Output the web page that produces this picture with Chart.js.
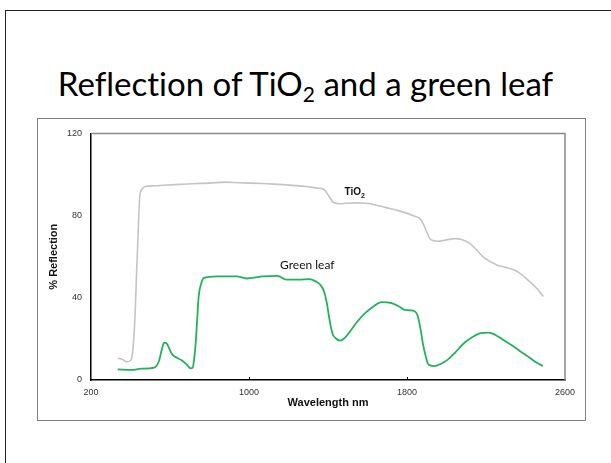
<!DOCTYPE html>
<html>
<head>
<meta charset="utf-8">
<script src="https://cdn.jsdelivr.net/npm/chart.js@4.4.1/dist/chart.umd.min.js"></script>
<style>
  html, body { margin: 0; padding: 0; background: #fff; }
  body { width: 611px; height: 463px; position: relative; overflow: hidden; }
  #slide {
    position: absolute; left: 5px; top: 10px; width: 620px; height: 470px;
    border-left: 1px solid #222; border-top: 1px solid #222;
  }
  #titulo {
    position: absolute; left: 0; top: 63px; width: 611px; text-align: center;
    font-family: Lato, sans-serif; font-size: 33px; color: #000; line-height: 40px;
    font-variant-ligatures: none;
  }
  #titulo sub { font-size: 21px; vertical-align: -6px; line-height: 0; }
  #caja {
    position: absolute; left: 37px; top: 118px; width: 547px; height: 301px;
    border: 1px solid #808080;
  }
</style>
</head>
<body>
<div id="slide"></div>
<div id="titulo">Reflection of TiO<sub>2</sub> and a green leaf</div>
<div id="caja"><canvas id="graficoReflexion" width="547" height="301"></canvas></div>
<script>
// longitudes de onda (nm) y % de reflexion
const longitudTiO2 = [335, 360, 380, 400, 410, 422, 430, 438, 447, 458, 470, 520, 570, 650, 738, 800, 880, 950, 1070, 1150, 1238, 1300, 1338, 1380, 1405, 1430, 1460, 1490, 1540, 1590, 1640, 1690, 1760, 1840, 1865, 1880, 1900, 1920, 1955, 2000, 2040, 2080, 2115, 2150, 2190, 2255, 2300, 2340, 2380, 2420, 2460, 2490];
const reflexionTiO2 = [10.6, 10.0, 8.9, 9.5, 13, 29, 50, 70, 89.4, 92.8, 94.0, 94.5, 94.8, 95.2, 95.6, 95.8, 96.3, 96.0, 95.6, 95.2, 94.6, 94.0, 93.5, 92.7, 89.4, 86.2, 85.8, 86.0, 86.2, 86.0, 85.2, 84.0, 82.3, 79.7, 78.5, 76.4, 72, 68.3, 67.5, 68.2, 68.8, 68.3, 66.7, 63.5, 59.5, 56.0, 54.8, 53.6, 51.3, 48.0, 44.3, 40.6];

const longitudHoja = [335, 405, 455, 520, 545, 560, 570, 580, 588, 600, 613, 635, 655, 680, 705, 715, 722, 730, 738, 745, 758, 770, 838, 938, 988, 1070, 1145, 1188, 1250, 1305, 1338, 1360, 1380, 1395, 1405, 1422, 1440, 1463, 1485, 1505, 1545, 1588, 1630, 1672, 1722, 1760, 1788, 1830, 1845, 1855, 1870, 1880, 1895, 1905, 1920, 1938, 1970, 2005, 2045, 2088, 2130, 2172, 2213, 2250, 2288, 2340, 2388, 2420, 2455, 2488];
const reflexionHoja = [5.2, 4.9, 5.5, 6.0, 9.5, 15.5, 18.2, 18.0, 17.0, 14.5, 12.2, 10.8, 9.8, 8.0, 5.7, 6.0, 10, 18, 30, 40.6, 47, 49.6, 50.4, 50.4, 49.4, 50.4, 50.7, 48.8, 48.8, 49.1, 48.0, 46.5, 43.1, 37, 30.9, 22.8, 20.2, 19.2, 20.5, 22.8, 28, 32.5, 35.8, 37.9, 37.4, 35.8, 34.1, 33.8, 33.0, 30.9, 24, 17.9, 11.5, 8.1, 7.0, 6.8, 7.8, 9.8, 13.5, 17.9, 20.8, 22.8, 23.1, 21.8, 19.5, 16.3, 13.0, 11.0, 8.5, 6.8];

const marcasX = [200, 1000, 1800, 2600];
const marcasY = [0, 40, 80, 120];

// etiquetas dentro del grafico: [texto, longitud, reflexion]
const etiquetaTiO2 = ['TiO', 1535, 91.2];
const etiquetaHoja = ['Green leaf', 1295, 56];

const puntos = (xs, ys) => xs.map((x, i) => ({ x: x, y: ys[i] }));

const marcoYTextos = {
    id: 'marcoYTextos',
    afterDatasetsDraw(chart) {
        const { ctx, chartArea: a, scales: { x, y } } = chart;
        ctx.save();
        // bordes superior y derecho del area de trazado
        ctx.strokeStyle = '#8a8a8a';
        ctx.lineWidth = 1.5;
        ctx.beginPath();
        ctx.moveTo(a.left, a.top);
        ctx.lineTo(a.right, a.top);
        ctx.lineTo(a.right, a.bottom);
        ctx.stroke();
        // marcas pequenas hacia dentro en el eje x
        ctx.strokeStyle = '#000';
        ctx.lineWidth = 1;
        marcasX.slice(1, -1).forEach(v => {
            const px = Math.round(x.getPixelForValue(v)) + 0.5;
            ctx.beginPath();
            ctx.moveTo(px, a.bottom);
            ctx.lineTo(px, a.bottom - 3);
            ctx.stroke();
        });
        // etiqueta TiO2 con subindice
        ctx.fillStyle = '#111';
        ctx.textBaseline = 'middle';
        ctx.font = 'bold 10px "Liberation Sans", Arial, sans-serif';
        const w1 = ctx.measureText(etiquetaTiO2[0]).width;
        ctx.font = 'bold 7px "Liberation Sans", Arial, sans-serif';
        const w2 = ctx.measureText('2').width;
        const cx = x.getPixelForValue(etiquetaTiO2[1]);
        const cy = y.getPixelForValue(etiquetaTiO2[2]);
        const x0 = cx - (w1 + w2) / 2;
        ctx.font = 'bold 10px "Liberation Sans", Arial, sans-serif';
        ctx.textAlign = 'left';
        ctx.fillText(etiquetaTiO2[0], x0, cy);
        ctx.font = 'bold 7px "Liberation Sans", Arial, sans-serif';
        ctx.fillText('2', x0 + w1, cy + 3);
        // etiqueta Green leaf
        ctx.font = '12px Lato, sans-serif';
        ctx.textAlign = 'center';
        ctx.fillText(etiquetaHoja[0], x.getPixelForValue(etiquetaHoja[1]), y.getPixelForValue(etiquetaHoja[2]));
        ctx.restore();
    }
};

const fuenteEjes = { family: '"Liberation Sans", Arial, sans-serif', size: 9 };
const fuenteTitulos = { family: '"Liberation Sans", Arial, sans-serif', size: 11, weight: 'bold' };

new Chart(document.getElementById('graficoReflexion').getContext('2d'), {
    type: 'line',
    data: {
        datasets: [{
            label: 'TiO2',
            data: puntos(longitudTiO2, reflexionTiO2),
            borderColor: '#c4c4c4',
            borderWidth: 1.6,
            pointRadius: 0,
            cubicInterpolationMode: 'monotone',
            fill: false
        }, {
            label: 'Green leaf',
            data: puntos(longitudHoja, reflexionHoja),
            borderColor: '#22b35a',
            borderWidth: 1.8,
            pointRadius: 0,
            cubicInterpolationMode: 'monotone',
            fill: false
        }]
    },
    options: {
        responsive: false,
        devicePixelRatio: 1,
        animation: false,
        layout: { padding: { left: 0, right: 20, top: 14, bottom: 0 } },
        plugins: {
            legend: { display: false },
            tooltip: { enabled: false }
        },
        scales: {
            x: {
                type: 'linear',
                min: 200,
                max: 2600,
                afterBuildTicks: s => { s.ticks = marcasX.map(v => ({ value: v })); },
                afterFit: s => { s.height = 40; },
                grid: { display: false, drawTicks: false },
                border: { color: '#000', width: 1.5 },
                ticks: { font: fuenteEjes, color: '#333', padding: 7, maxRotation: 0, callback: v => String(v) },
                title: { display: true, text: 'Wavelength nm', font: fuenteTitulos, color: '#111', padding: { top: 0, bottom: 10 } }
            },
            y: {
                min: 0,
                max: 120,
                afterBuildTicks: s => { s.ticks = marcasY.map(v => ({ value: v })); },
                afterFit: s => { s.width = 53; },
                grid: { display: false, drawTicks: false },
                border: { color: '#000', width: 1.5 },
                ticks: { font: fuenteEjes, color: '#333', padding: 9, callback: v => String(v) },
                title: { display: true, text: '% Reflection', font: fuenteTitulos, color: '#111', padding: { top: 9, bottom: 0 } }
            }
        }
    },
    plugins: [marcoYTextos]
});
</script>
</body>
</html>
